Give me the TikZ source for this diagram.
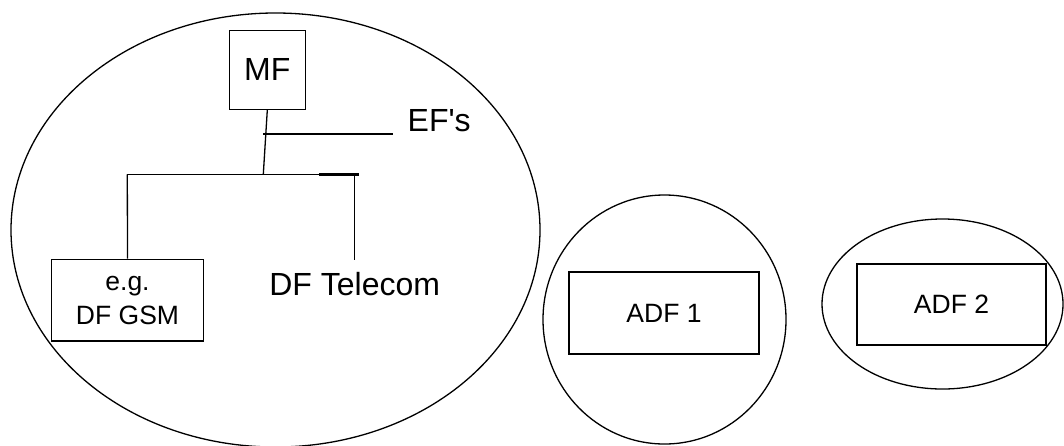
\documentclass[tikz,border=0pt]{standalone}
\usepackage{fontspec}
\setmainfont{Liberation Sans}
\usetikzlibrary {positioning}

\begin{document}
\begin{tikzpicture}[x=1pt ,y=-1pt ,line width =1.3pt ,
box/.style ={ rectangle ,draw ,inner sep =0pt ,align =center},
big/.style ={font =\fontsize{32}{38}\selectfont},
small/.style ={font =\fontsize{26.5}{33.7}\selectfont}]
\useasboundingbox (0,0) rectangle (1064,445);
% the three applications
\draw (275.5,230) ellipse [x radius =264.5, y radius =217];
\draw (664.5,319.5) ellipse [x radius =121.5, y radius =124.5];
\draw (942.5,304) ellipse [x radius =120.5, y radius =85];
% files
\node[box ,big ,minimum width =76pt ,minimum height =79pt] (MF) at (267.3,69.9) {MF};
\node[box ,small ,minimum width =151.6pt ,minimum height =81.7pt] (GSM) at (127.5,300.2) {e.g.\\DF GSM};
\node[box ,small ,minimum width =190pt ,minimum height =82pt] (ADFa) at (664,313) {ADF 1};
\node[box ,small ,minimum width =189pt ,minimum height =81pt] (ADFb) at (951.5,304.5) {ADF 2};
\coordinate (hub) at (263.3,174.3);
\coordinate (efstart) at (263.3,134);
\coordinate (efend) at (392.7,134);
\coordinate (lbranch) at (127.3,174.3);
\coordinate (rbranch) at (354.7,174.3);
\coordinate (rend) at (354.7,260);
\coordinate (tickL) at (319.3,174.3);
\coordinate (tickR) at (359,174.3);
\node[big ,inner sep =0pt ,anchor =base west] (efs) at (407,131) {EF\textquotesingle s};
\node[big ,inner sep =0pt] (dftel) [below =12pt of rend] {DF Telecom};
% tree
\draw (MF.south) -- (hub);
\draw (efstart) -- (efend);
\draw (lbranch) -- (rbranch);
\draw (lbranch) -- (GSM.north);
\draw (rbranch) -- (rend);
\draw[line width =2.6pt] (tickL) -- (tickR);
\end{tikzpicture}
\end{document}
